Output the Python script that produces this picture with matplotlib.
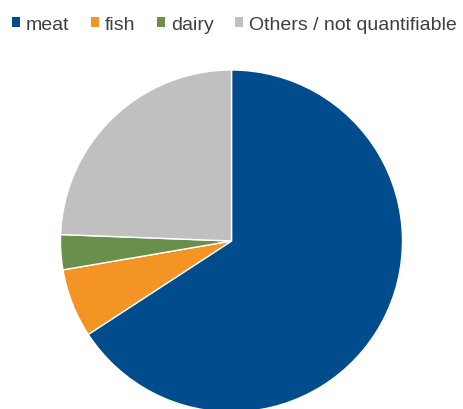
import matplotlib
matplotlib.use("Agg")
import matplotlib.pyplot as plt
from matplotlib.patches import Patch

plt.rcParams["font.family"] = ["Liberation Sans", "DejaVu Sans"]

labels = ["meat", "fish", "dairy", "Others / not quantifiable"]
shares = [65.8, 6.5, 3.3, 24.4]
colors = ["#004C8C", "#F39425", "#6A8F4A", "#C0C0C0"]

W, H = 463, 410
fig = plt.figure(figsize=(W / 100, H / 100), dpi=100)

# pie axes: centre (231.5, 242) px, radius 171 px
cx, cy, r = 231.5, 242, 171
ax = fig.add_axes([(cx - r) / W, (H - cy - r) / H, 2 * r / W, 2 * r / H])
ax.pie(shares, colors=colors, startangle=90, counterclock=False,
       wedgeprops=dict(edgecolor="white", linewidth=1.0))
ax.set_xlim(-1, 1)
ax.set_ylim(-1, 1)
ax.set_aspect("equal")
ax.axis("off")

handles = [Patch(facecolor=c, edgecolor="none") for c in colors]
leg = fig.legend(handles, labels, loc="upper left", bbox_to_anchor=(12 / W, 1 - 17 / H),
                 ncol=4, frameon=False, fontsize=14, handlelength=0.42, handleheight=0.42,
                 handletextpad=0.3, columnspacing=1.1, borderpad=0, borderaxespad=0)
for t in leg.get_texts():
    t.set_color("#404040")

fig.savefig("out.png", dpi=100)
